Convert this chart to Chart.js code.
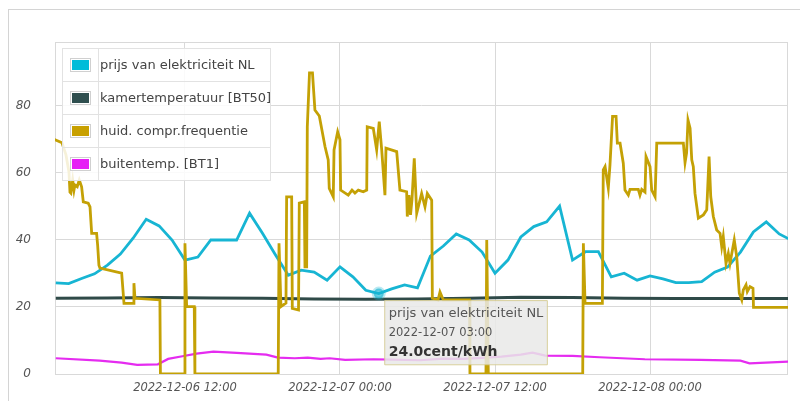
<!DOCTYPE html>
<html>
<head>
<meta charset="utf-8">
<script src="https://cdn.jsdelivr.net/npm/chart.js@4.4.0/dist/chart.umd.min.js"></script>
<style>
  html, body { margin: 0; padding: 0; background: #fff; overflow: hidden; }
  #wrap { position: relative; width: 800px; height: 401px; }
  #frame { position: absolute; left: 8px; top: 9px; width: 900px; height: 500px; border: 1px solid #d4d4d4; }
  #chart { position: absolute; left: 0; top: 0; }
  #legend { position: absolute; left: 62px; top: 48px; width: 207px; border: 1px solid #e2e2e2; background: rgba(255,255,255,0.85); }
  #legend .row { display: flex; align-items: center; height: 32px; border-top: 1px solid #e2e2e2; }
  #legend .row:first-child { border-top: none; }
  #legend .sw { flex: none; width: 35px; height: 32px; border-right: 1px solid #e2e2e2; display: flex; align-items: center; justify-content: center; }
  #legend .sw span { width: 17px; height: 10px; border: 1px solid #d0d0d0; padding: 1px; background-clip: content-box; }
  #legend .lbl { padding-left: 1px; font-family: "DejaVu Sans", sans-serif; font-size: 13px; line-height: 32px; color: #444; white-space: nowrap; }
</style>
</head>
<body>
<div id="wrap">
  <div id="frame"></div>
  <canvas id="chart" width="800" height="401"></canvas>
  <div id="legend"></div>
</div>
<script>
// hours counted from 2022-12-06 00:00
const xTicks = [12, 24, 36, 48];
const yTicks = [0, 20, 40, 60, 80];

const priceHours = [2, 3, 4, 5, 6, 7, 8, 9, 10, 11, 12, 13, 14, 15, 16, 17, 18, 19, 20, 21, 22, 23, 24, 25, 26, 27, 28, 29, 30,
  31, 32, 33, 34, 35, 36, 37, 38, 39, 40, 41, 42, 43, 44, 45, 46, 47, 48, 49, 50, 51, 52, 53, 54, 55, 56, 57, 58, 59];
const priceValues = [27.2, 27.0, 28.5, 29.9, 32.5, 35.8, 40.6, 46.2, 44.2, 40.0, 34.0, 34.9, 40.0, 40.0, 40.0, 48.0, 42.0, 35.6, 29.5,
  31.0, 30.4, 28.0, 32.0, 29.0, 25.0, 24.0, 25.4, 26.6, 25.7, 35.2, 38.2, 41.8, 40.0, 36.4, 30.1, 34.0, 40.9, 44.0, 45.4, 50.1,
  34.0, 36.5, 36.5, 29.0, 30.1, 28.0, 29.3, 28.4, 27.3, 27.3, 27.6, 30.4, 31.9, 36.4, 42.4, 45.4, 41.8, 39.8];

const roomHours = [2, 6, 10, 14, 18, 22, 26, 30, 34, 38, 42, 46, 50, 54, 59];
const roomValues = [22.6, 22.7, 22.8, 22.7, 22.6, 22.4, 22.3, 22.4, 22.6, 22.9, 22.8, 22.6, 22.5, 22.5, 22.5];

const compHours = [1.9, 2.48, 2.79, 3.02, 3.10, 3.17, 3.31, 3.41, 3.48, 3.66,
  3.82, 4.00, 4.13, 4.51, 4.65, 4.78, 5.16, 5.24, 5.34, 5.42,
  7.10, 7.28, 8.00, 8.05, 8.13, 10.06, 10.10, 11.95, 12.00, 12.13,
  12.72, 12.77, 19.22, 19.28, 19.43, 19.82, 19.87, 20.26, 20.31, 20.79,
  20.85, 21.24, 21.29, 21.42, 21.47, 21.64, 21.87, 22.06, 22.40, 22.84,
  23.09, 23.17, 23.48, 23.54, 23.82, 24.00, 24.05, 24.64, 24.93, 25.16,
  25.42, 25.80, 26.07, 26.11, 26.58, 26.84, 27.04, 27.23, 27.48, 27.56,
  28.39, 28.64, 29.16, 29.21, 29.34, 29.46, 29.57, 29.75, 29.94, 30.32,
  30.58, 30.76, 31.10, 31.15, 31.59, 31.74, 32.00, 34.03, 34.06, 35.30,
  35.36, 35.48, 42.79, 42.84, 42.97, 44.31, 44.38, 44.52, 44.77, 44.90,
  45.10, 45.37, 45.47, 45.68, 45.93, 46.06, 46.32, 46.45, 47.09, 47.22,
  47.36, 47.61, 47.69, 48.00, 48.13, 48.39, 48.52, 50.58, 50.71, 50.83,
  50.94, 51.10, 51.23, 51.35, 51.48, 51.74, 52.13, 52.39, 52.57, 52.70,
  52.90, 53.16, 53.42, 53.55, 53.67, 53.88, 54.06, 54.19, 54.52, 54.71,
  54.91, 55.10, 55.22, 55.43, 55.53, 55.74, 55.97, 56.01, 58.84];
const compValues = [70.0, 69.0, 65.4, 60.3, 54.3, 54.0, 57.9, 54.9, 56.4, 55.9,
  57.9, 55.9, 51.4, 51.0, 49.9, 42.0, 42.0, 38.5, 32.5, 31.6,
  30.1, 21.1, 21.1, 27.1, 22.6, 22.1, 0, 0, 39.0, 20.1,
  20.1, 0, 0, 39.0, 20.1, 21.2, 52.9, 52.9, 19.6, 19.1,
  51.0, 51.4, 32.0, 32.0, 73.8, 89.9, 89.9, 78.8, 77.0, 67.9,
  63.9, 55.4, 52.9, 66.9, 72.3, 69.9, 54.9, 53.4, 54.9, 54.0,
  54.9, 54.4, 54.9, 73.8, 73.3, 66.9, 75.3, 66.9, 53.4, 67.4,
  66.4, 54.9, 54.4, 47.0, 53.4, 47.5, 51.9, 64.4, 48.0, 53.9,
  49.9, 53.9, 51.9, 22.6, 22.1, 24.5, 22.1, 22.1, 0, 0,
  40.0, 0, 0, 39.0, 21.1, 21.1, 60.9, 61.9, 55.5, 62.4,
  76.9, 76.9, 68.9, 68.9, 62.9, 54.9, 53.4, 55.1, 55.1, 53.4,
  55.1, 54.3, 64.9, 61.9, 54.9, 52.9, 68.9, 68.9, 63.1, 66.0,
  75.8, 73.4, 63.9, 61.9, 53.9, 46.5, 47.5, 49.0, 64.9, 52.9,
  47.0, 43.0, 42.0, 38.0, 41.0, 33.0, 36.0, 33.0, 40.0, 35.0,
  24.1, 22.1, 25.1, 26.6, 24.6, 26.1, 25.6, 19.9, 19.9];

const outHours = [2, 5.4, 7.1, 8.3, 9.9, 10.7, 11.8, 12.9, 14.2, 16, 18.3, 19.2, 20.5, 21.5, 22.5, 23.2, 24.4, 26.6, 28, 30.2,
  32, 33.5, 35, 36.5, 38, 38.9, 39.9, 42, 44.1, 47.6, 51.9, 55, 55.7, 58.7];
const outValues = [4.7, 4.0, 3.4, 2.7, 2.9, 4.5, 5.3, 6.1, 6.7, 6.3, 5.8, 4.9, 4.7, 4.9, 4.5, 4.7, 4.2, 4.4, 4.3, 4.1,
  4.6, 4.5, 4.8, 5.2, 5.8, 6.4, 5.5, 5.4, 5.0, 4.4, 4.2, 4.0, 3.2, 3.7];

const tooltipHour = 27;

const pts = (xs, ys) => xs.map((x, i) => ({ x, y: ys[i] }));
const pad = n => String(n).padStart(2, '0');
function fmtDate(h) {
  const d = new Date(Date.UTC(2022, 11, 6) + h * 3600e3);
  return `${d.getUTCFullYear()}-${pad(d.getUTCMonth() + 1)}-${pad(d.getUTCDate())} ${pad(d.getUTCHours())}:${pad(d.getUTCMinutes())}`;
}

Chart.defaults.font.family = '"DejaVu Sans", sans-serif';

Chart.Tooltip.positioners.nextToPoint = function (items) {
  if (!items.length) return false;
  const el = items[0].element;
  return { x: el.x + 6, y: el.y + 7 };
};

const frameBox = {
  id: 'frameBox',
  beforeDatasetsDraw(chart) {
    const { ctx, chartArea: a } = chart;
    ctx.save();
    ctx.strokeStyle = '#d9d9d9';
    ctx.lineWidth = 1;
    ctx.strokeRect(Math.round(a.left) + 0.5, Math.round(a.top) + 0.5, Math.round(a.right - a.left) - 1, Math.round(a.bottom - a.top));
    ctx.restore();
  }
};

const line = (label, data, color, width, order) => ({
  label, data, borderColor: color, backgroundColor: color, borderWidth: width,
  pointRadius: 0, pointHoverRadius: 0, tension: 0, order
});

const datasets = [
  Object.assign(line('prijs van elektriciteit NL', pts(priceHours, priceValues), '#17b5d3', 2.8, 1), {
    pointHoverRadius: 5, pointHoverBorderWidth: 4,
    pointHoverBackgroundColor: 'rgba(23,181,211,0.65)', pointHoverBorderColor: 'rgba(23,181,211,0.3)'
  }),
  line('kamertemperatuur [BT50]', pts(roomHours, roomValues), '#2f4a48', 3, 2),
  line('huid. compr.frequentie', pts(compHours, compValues), '#c4a105', 2.8, 0),
  line('buitentemp. [BT1]', pts(outHours, outValues), '#e52cf0', 2.2, 3)
];
const swatchColors = ['#00bcd9', '#2f4f4f', '#c8a000', '#e61ef5'];

const chart = new Chart(document.getElementById('chart'), {
  type: 'line',
  data: { datasets },
  plugins: [frameBox],
  options: {
    responsive: false,
    animation: false,
    events: [],
    layout: { padding: { left: 0, right: 12, top: 42, bottom: 0 } },
    plugins: {
      legend: { display: false },
      tooltip: {
        enabled: true,
        animation: false,
        position: 'nextToPoint',
        xAlign: 'left',
        yAlign: 'top',
        caretSize: 0,
        caretPadding: 0,
        cornerRadius: 0,
        displayColors: false,
        backgroundColor: 'rgba(233,233,231,0.85)',
        borderColor: 'rgba(210,200,140,0.85)',
        borderWidth: 1,
        padding: { left: 4, right: 4, top: 5, bottom: 4 },
        titleFont: { size: 13, weight: 'normal', lineHeight: 1.2 },
        titleColor: '#555',
        titleMarginBottom: 5,
        bodyFont: { size: 11.5, lineHeight: 1.2 },
        bodyColor: '#555',
        footerFont: { size: 14, weight: 'bold', lineHeight: 1.2 },
        footerColor: '#333',
        footerMarginTop: 4,
        callbacks: {
          title: items => items[0].dataset.label,
          label: item => fmtDate(item.parsed.x),
          footer: items => items[0].parsed.y.toFixed(1) + 'cent/kWh'
        }
      }
    },
    scales: {
      x: {
        type: 'linear',
        min: 1.94,
        max: 58.68,
        afterBuildTicks: s => { s.ticks = xTicks.map(v => ({ value: v })); },
        afterFit: s => { s.height = 27; },
        ticks: {
          color: '#555',
          font: { size: 11.5, style: 'italic' },
          padding: 7,
          maxRotation: 0,
          callback: v => fmtDate(v)
        },
        grid: { color: '#d9d9d9', drawTicks: false },
        border: { display: false }
      },
      y: {
        min: 0,
        max: 99.1,
        afterBuildTicks: s => { s.ticks = yTicks.map(v => ({ value: v })); },
        afterFit: s => { s.width = 55; s.paddingTop = 0; s.paddingBottom = 0; },
        ticks: {
          color: '#555',
          font: { size: 12, style: 'italic' },
          padding: 24
        },
        grid: { color: '#d9d9d9', drawTicks: false },
        border: { display: false }
      }
    }
  }
});

// html legend built from the datasets
document.getElementById('legend').innerHTML = chart.data.datasets.map((ds, i) =>
  `<div class="row"><div class="sw"><span style="background-color:${swatchColors[i]}"></span></div><div class="lbl">${ds.label}</div></div>`
).join('');

const active = [{ datasetIndex: 0, index: priceHours.indexOf(tooltipHour) }];
chart.setActiveElements(active);
chart.tooltip.setActiveElements(active, { x: 0, y: 0 });
chart.update();
</script>
</body>
</html>
